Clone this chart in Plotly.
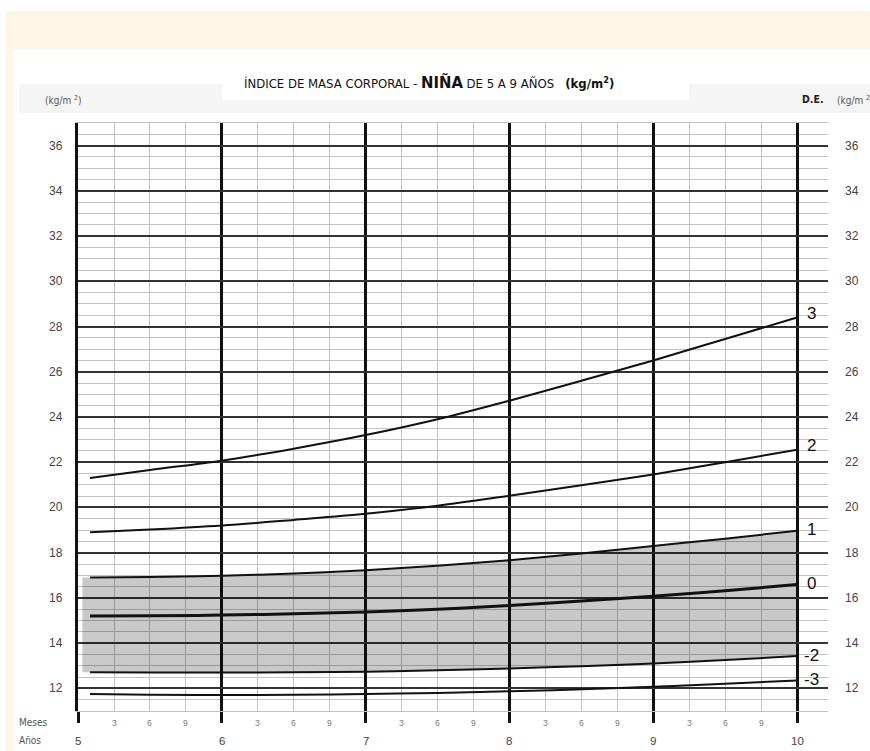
import plotly.graph_objects as go

# Edad en meses (5 años 1 mes a 10 años)
edad_meses = [61, 66, 72, 78, 84, 90, 96, 102, 108, 114, 120]

# IMC (kg/m²) por desviación estándar
de_mas3 = [21.3, 21.66, 22.07, 22.6, 23.2, 23.9, 24.72, 25.6, 26.5, 27.45, 28.4]
de_mas2 = [18.9, 19.02, 19.2, 19.45, 19.72, 20.08, 20.52, 20.98, 21.46, 22.0, 22.55]
de_mas1 = [16.9, 16.92, 16.98, 17.08, 17.22, 17.42, 17.67, 17.96, 18.3, 18.62, 18.97]
de_0 = [15.2, 15.21, 15.24, 15.3, 15.38, 15.5, 15.66, 15.86, 16.07, 16.32, 16.59]
de_men2 = [12.71, 12.7, 12.7, 12.71, 12.74, 12.8, 12.88, 12.98, 13.1, 13.25, 13.43]
de_men3 = [11.75, 11.72, 11.71, 11.72, 11.75, 11.8, 11.87, 11.96, 12.07, 12.2, 12.35]

etiquetas_de = ["3", "2", "1", "0", "-2", "-3"]
anios = [5, 6, 7, 8, 9, 10]
meses_tick = [3, 6, 9]
imc_ticks = list(range(12, 38, 2))

edad = [m / 12 for m in edad_meses]
inicio_banda = 5.03  # la zona sombreada arranca un poco antes que las curvas

fig = go.Figure()

# Zona normal sombreada entre -2 y +1
fig.add_trace(go.Scatter(
    x=[inicio_banda] + edad, y=[de_men2[0]] + de_men2,
    mode="lines", line=dict(width=0, shape="spline", color="rgba(0,0,0,0)"),
    hoverinfo="skip", showlegend=False))
fig.add_trace(go.Scatter(
    x=[inicio_banda] + edad, y=[de_mas1[0]] + de_mas1,
    mode="lines", line=dict(width=0, shape="spline", color="rgba(0,0,0,0)"),
    fill="tonexty", fillcolor="rgba(0,0,0,0.21)",
    hoverinfo="skip", showlegend=False))

series = [de_mas3, de_mas2, de_mas1, de_0, de_men2, de_men3]
for etiqueta, valores in zip(etiquetas_de, series):
    fig.add_trace(go.Scatter(
        x=edad, y=valores, mode="lines",
        line=dict(color="#111111", width=3 if etiqueta == "0" else 2, shape="spline"),
        name=etiqueta, showlegend=False))
    fig.add_annotation(
        x=edad[-1], y=valores[-1], xref="x", yref="y",
        text=etiqueta, showarrow=False, xanchor="center", yanchor="middle",
        xshift=14, yshift=4 if etiqueta in ("3", "2") else 1,
        font=dict(family="Liberation Sans, Arial", size=17, color="#111111"))

fuente = "Liberation Sans, Arial, sans-serif"
angosta = "Liberation Sans Narrow, DejaVu Sans Condensed, Liberation Sans, Arial"

# Etiquetas del eje de IMC, a ambos lados
for v in imc_ticks:
    fig.add_annotation(x=0, y=v, xref="paper", yref="y", text=str(v),
                       showarrow=False, xanchor="right", xshift=-13,
                       font=dict(family=fuente, size=12, color="#444444"))
    fig.add_annotation(x=1.032, y=v, xref="paper", yref="y", text=str(v),
                       showarrow=False, xanchor="center",
                       font=dict(family=fuente, size=12, color="#444444"))

# Años y meses
for a in anios:
    fig.add_annotation(x=a, y=-0.051, xref="x", yref="paper", text=str(a),
                       showarrow=False, xanchor="center", yanchor="middle",
                       font=dict(family=fuente, size=11.5, color="#444444"))
    if a < anios[-1]:
        for m in meses_tick:
            fig.add_annotation(x=a + m / 12, y=-0.0204, xref="x", yref="paper",
                               text=str(m), showarrow=False,
                               xanchor="center", yanchor="middle",
                               font=dict(family=fuente, size=8.5, color="#777777"))

fig.add_annotation(x=-0.081, y=-0.0204, xref="paper", yref="paper", text="Meses",
                   showarrow=False, xanchor="left", yanchor="middle",
                   font=dict(family=angosta, size=10, color="#555555"))
fig.add_annotation(x=-0.081, y=-0.051, xref="paper", yref="paper", text="Años",
                   showarrow=False, xanchor="left", yanchor="middle",
                   font=dict(family=angosta, size=10, color="#555555"))

# Encabezados
fig.add_annotation(
    x=0.219, y=1.0697, xref="paper", yref="paper", xanchor="left", yanchor="middle",
    showarrow=False,
    text=("ÍNDICE DE MASA CORPORAL - <b><span style='font-size:16.5px'>NIÑA</span></b>"
          " DE 5 A 9 AÑOS &nbsp;&nbsp;<b>(kg/m<sup>2</sup>)</b>"),
    font=dict(family=angosta, size=13, color="#111111"))
fig.add_annotation(x=-0.02, y=1.039, xref="paper", yref="paper",
                   text="(kg/m <sup>2</sup>)", showarrow=False,
                   xanchor="center", yanchor="middle",
                   font=dict(family=angosta, size=10, color="#555555"))
fig.add_annotation(x=0.9787, y=1.0408, xref="paper", yref="paper",
                   text="<b>D.E.</b>", showarrow=False,
                   xanchor="center", yanchor="middle",
                   font=dict(family=angosta, size=10.5, color="#222222"))
fig.add_annotation(x=1.0093, y=1.039, xref="paper", yref="paper",
                   text="(kg/m <sup>2</sup>)", showarrow=False,
                   xanchor="left", yanchor="middle",
                   font=dict(family=angosta, size=10, color="#555555"))

# Fondo de la ficha
fondos = [
    dict(x0=-0.096, x1=1.08, y0=-0.09, y1=1.1905, color="#fdf6e7"),
    dict(x0=-0.0853, x1=1.08, y0=-0.09, y1=1.1259, color="#ffffff"),
    dict(x0=-0.0787, x1=1.08, y0=1.017, y1=1.0663, color="#f5f5f5"),
    dict(x0=0.192, x1=0.8147, y0=1.039, y1=1.107, color="#ffffff"),
]
for f in fondos:
    fig.add_shape(type="rect", xref="paper", yref="paper",
                  x0=f["x0"], x1=f["x1"], y0=f["y0"], y1=f["y1"],
                  fillcolor=f["color"], line=dict(width=0), layer="below")

fig.update_xaxes(
    range=[4.9995, 10.2156], tickmode="linear", tick0=5, dtick=1,
    showgrid=True, gridcolor="#111111", gridwidth=3,
    minor=dict(tick0=5, dtick=0.25, showgrid=True, gridcolor="#c2c2c2", gridwidth=1.3),
    ticks="outside", ticklen=11, tickwidth=3, tickcolor="#111111",
    showticklabels=False, showline=True, linecolor="#c2c2c2", linewidth=1,
    mirror=True, zeroline=False, fixedrange=True)
fig.update_yaxes(
    range=[11, 37], tickmode="linear", tick0=12, dtick=2,
    showgrid=True, gridcolor="#333333", gridwidth=1.6,
    minor=dict(tick0=12, dtick=0.5, showgrid=True, gridcolor="#c2c2c2", gridwidth=1.3),
    showticklabels=False, showline=True, linecolor="#111111", linewidth=3,
    mirror=False, zeroline=False, fixedrange=True)

fig.update_layout(
    width=870, height=751,
    margin=dict(l=78, r=42, t=123, b=40),
    paper_bgcolor="#ffffff", plot_bgcolor="#ffffff",
    showlegend=False,
)

fig.write_html("out.html")
